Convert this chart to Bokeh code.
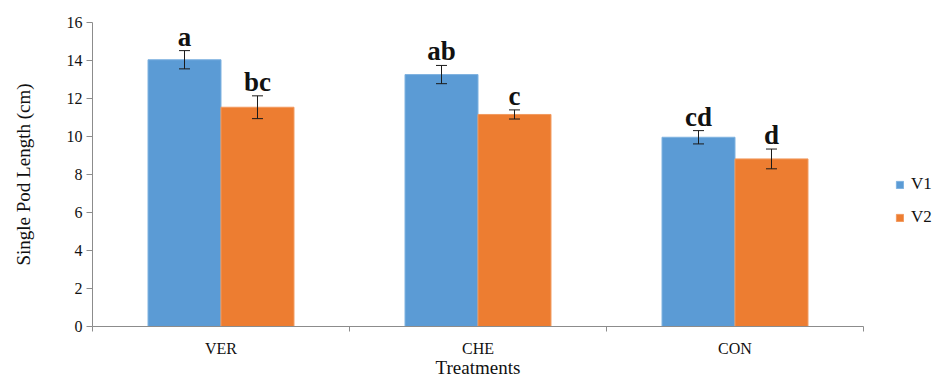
from bokeh.plotting import figure
from bokeh.models import (ColumnDataSource, Whisker, FixedTicker, Legend, LegendItem,
                          Range1d)
from bokeh.core.properties import value
from bokeh.embed import file_html
from bokeh.resources import INLINE

# Mean single pod length (cm) per treatment, two varieties
treatments = ["VER", "CHE", "CON"]
v1_mean = [14.04, 13.26, 9.96]
v1_err = [0.48, 0.48, 0.35]
v1_letters = ["a", "ab", "cd"]
v2_mean = [11.54, 11.16, 8.82]
v2_err = [0.60, 0.24, 0.52]
v2_letters = ["bc", "c", "d"]
y_ticks = [0, 2, 4, 6, 8, 10, 12, 14, 16]

BLUE = "#5B9BD5"
ORANGE = "#ED7D31"
SERIF = "Liberation Serif"
BAR_W = 0.284
SHIFT = BAR_W / 2

centers = [i + 0.5 for i in range(len(treatments))]


def series(means, errs, letters, shift):
    return ColumnDataSource(dict(
        x=[c + shift for c in centers],
        top=means,
        upper=[m + e for m, e in zip(means, errs)],
        lower=[m - e for m, e in zip(means, errs)],
        letter=letters,
    ))


s1 = series(v1_mean, v1_err, v1_letters, -SHIFT)
s2 = series(v2_mean, v2_err, v2_letters, SHIFT)

p = figure(width=941, height=377, output_backend="svg", toolbar_location=None,
           x_range=Range1d(0, len(treatments)), y_range=Range1d(0, 16),
           min_border_left=92, min_border_right=78, min_border_top=22,
           min_border_bottom=51)
p.frame_width = 771
p.frame_height = 304
p.outline_line_color = None
p.grid.grid_line_color = None
p.background_fill_color = "white"
p.border_fill_color = "white"

r1 = p.vbar(x="x", top="top", width=BAR_W, source=s1, fill_color=BLUE,
            line_color="#7FB2E0", line_width=1)
r2 = p.vbar(x="x", top="top", width=BAR_W, source=s2, fill_color=ORANGE,
            line_color="#F29A5F", line_width=1)

for src in (s1, s2):
    w = Whisker(base="x", upper="upper", lower="lower", source=src,
                level="overlay", line_color="#1a1a1a", line_width=1)
    w.upper_head.size = 11
    w.lower_head.size = 11
    w.upper_head.line_color = "#1a1a1a"
    w.lower_head.line_color = "#1a1a1a"
    p.add_layout(w)
    p.text(x="x", y="upper", text="letter", source=src, text_align="center",
           text_baseline="bottom", y_offset=1, text_font=value(SERIF),
           text_font_size="27px", text_font_style="bold", text_color="#111111")

# x axis: labels at category centres, ticks at category boundaries
xa = p.xaxis[0]
xa.ticker = FixedTicker(ticks=centers,
                        minor_ticks=list(range(len(treatments) + 1)))
xa.major_label_overrides = {c: t for c, t in zip(centers, treatments)}
xa.major_tick_line_color = None
xa.major_tick_out = 0
xa.major_tick_in = 0
xa.minor_tick_line_color = "#8c8c8c"
xa.minor_tick_out = 5
xa.minor_tick_in = 0
xa.axis_line_color = "#8c8c8c"
xa.major_label_text_font = SERIF
xa.major_label_text_font_size = "16px"
xa.major_label_text_color = "#111111"
xa.major_label_standoff = 8
xa.axis_label = "Treatments"
xa.axis_label_text_font = SERIF
xa.axis_label_text_font_size = "19px"
xa.axis_label_text_font_style = "normal"
xa.axis_label_text_color = "#111111"
xa.axis_label_standoff = -3

ya = p.yaxis[0]
ya.ticker = FixedTicker(ticks=y_ticks)
ya.minor_tick_line_color = None
ya.major_tick_line_color = "#8c8c8c"
ya.major_tick_out = 6
ya.major_tick_in = 0
ya.axis_line_color = "#8c8c8c"
ya.major_label_text_font = SERIF
ya.major_label_text_font_size = "16px"
ya.major_label_text_color = "#111111"
ya.major_label_standoff = 4
ya.axis_label = "Single Pod Length (cm)"
ya.axis_label_text_font = SERIF
ya.axis_label_text_font_size = "19px"
ya.axis_label_text_font_style = "normal"
ya.axis_label_text_color = "#111111"
ya.axis_label_standoff = 30

legend = Legend(items=[LegendItem(label="V1", renderers=[r1]),
                       LegendItem(label="V2", renderers=[r2])],
                location=(32, 99), orientation="vertical",
                glyph_width=9, glyph_height=9, label_height=16, spacing=13,
                label_standoff=7, padding=0, margin=0,
                border_line_color=None, background_fill_alpha=0,
                label_text_font=SERIF, label_text_font_size="17px",
                label_text_color="#111111")
p.add_layout(legend, "right")

open("out.html", "w").write(file_html(p, INLINE))
